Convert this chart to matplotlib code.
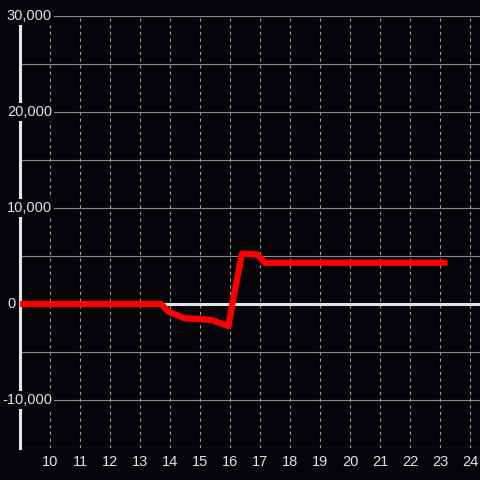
import matplotlib
matplotlib.use("Agg")
import matplotlib.pyplot as plt

# Data (hour vs value)
hours = [9.0, 13.7, 13.95, 14.5, 14.95, 15.4, 15.55, 15.95, 16.1, 16.4, 16.9, 17.17, 23.25]
values = [0, 0, -800, -1500, -1550, -1680, -1850, -2300, 400, 5250, 5150, 4300, 4300]

x_ticks = list(range(10, 25))
y_label_vals = [30000, 20000, 10000, 0, -10000]
y_label_text = ["30,000", "20,000", "10,000", "0", "-10,000"]

BG = "#050408"
TXT = "#e2e2e2"
plt.rcParams["font.family"] = ["Liberation Sans", "DejaVu Sans"]

fig = plt.figure(figsize=(4.8, 4.8), dpi=100, facecolor=BG)
ax = fig.add_axes([20/480, 32/480, 460/480, 432/480], facecolor=BG)
ax.set_xlim(9, 9 + 460/30)
ax.set_ylim(-15000, 30000)

for s in ax.spines.values():
    s.set_visible(False)

# grid
for v in range(-15000, 30001, 5000):
    ax.axhline(v, color="#8a8a8a", lw=0.8, zorder=1)
for t in x_ticks:
    ax.axvline(t, color="#9a9a9a", lw=0.8, ls=(0, (3, 3)), zorder=1)

# zero line and y axis
ax.axhline(0, color="#e6e6e6", lw=2.2, zorder=2)
ax.axvline(9, color="#e6e6e6", lw=2.2, zorder=2, clip_on=False)

ax.plot(hours, values, color="#ff0000", lw=4.5, zorder=4,
        solid_joinstyle="round", solid_capstyle="butt")

ax.set_xticks(x_ticks)
ax.set_xticklabels([str(t) for t in x_ticks])
ax.tick_params(axis="x", length=0, pad=5, colors=TXT, labelsize=10.5)
ax.set_yticks([])

for v, lab in zip(y_label_vals, y_label_text):
    right = 16 if lab == "0" else 52
    ax.annotate(lab, xy=(0, v), xycoords=("axes fraction", "data"),
                xytext=(right - 20, 0), textcoords="offset pixels",
                ha="right", va="center", color=TXT, fontsize=10.5,
                bbox=dict(boxstyle="square,pad=0.15", fc=BG, ec="none"),
                zorder=6, annotation_clip=False)

fig.savefig("out.png", dpi=100, facecolor=BG)
